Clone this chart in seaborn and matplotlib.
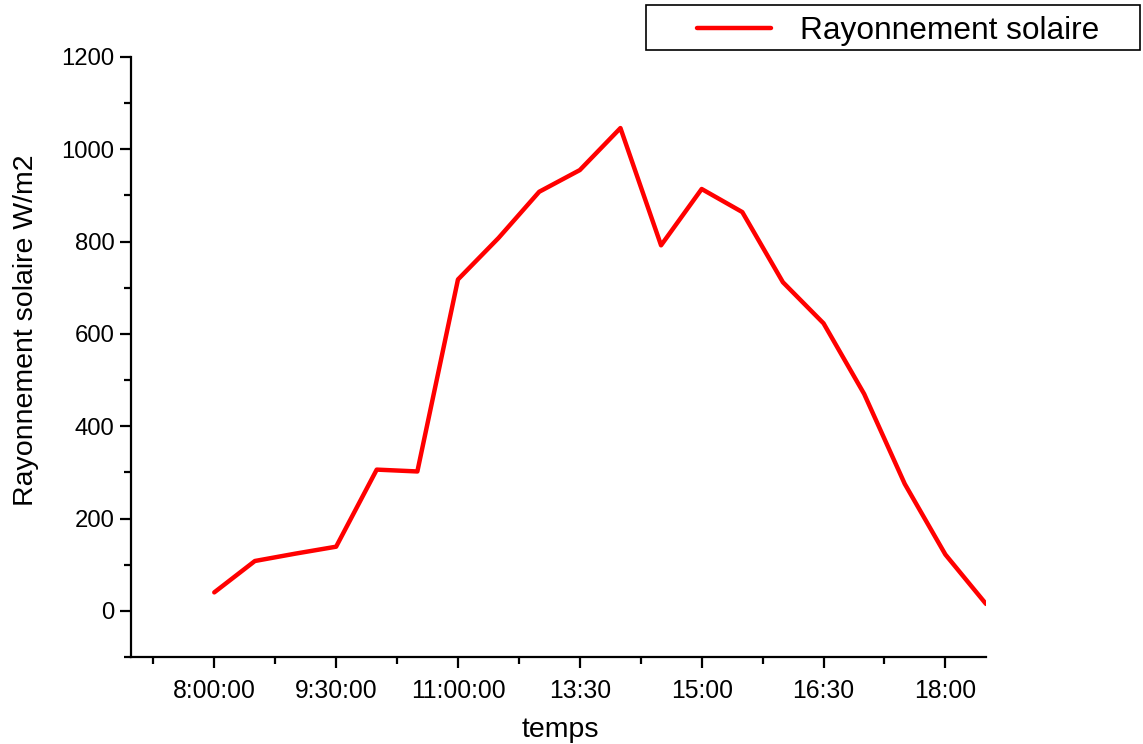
import matplotlib
matplotlib.use("Agg")
import matplotlib.pyplot as plt
from matplotlib.patches import Rectangle
from matplotlib.ticker import MultipleLocator
import seaborn as sns
import numpy as np

# one reading every step, tick labels every 3 steps
idx = list(range(20))
rayonnement = [40, 108, 124, 139, 306, 302, 718, 808, 908, 955,
               1046, 792, 914, 864, 712, 623, 470, 275, 122, 15]
tick_pos = [0, 3, 6, 9, 12, 15, 18]
tick_labels = ["8:00:00", "9:30:00", "11:00:00", "13:30", "15:00", "16:30", "18:00"]
serie = "Rayonnement solaire"

sns.set_style("ticks")
plt.rcParams["font.family"] = ["Liberation Sans", "DejaVu Sans"]
plt.rcParams["text.color"] = "black"
plt.rcParams["axes.labelcolor"] = "black"

fig = plt.figure(figsize=(11.43, 7.44), dpi=100)
ax = fig.add_axes([131/1143, 87/744, (986-131)/1143, (657-57)/744])

sns.lineplot(x=idx, y=rayonnement, color="#ff0000", lw=3.2, ax=ax, legend=False)

ax.set_xlim(-2.05, 19)
ax.set_ylim(-100, 1200)
ax.set_xticks(tick_pos)
ax.set_xticklabels(tick_labels)
ax.xaxis.set_minor_locator(MultipleLocator(3, offset=1.5))
ax.yaxis.set_major_locator(MultipleLocator(200))
ax.yaxis.set_minor_locator(MultipleLocator(100))

for s in ["top", "right"]:
    ax.spines[s].set_visible(False)
for s in ["left", "bottom"]:
    ax.spines[s].set_linewidth(1.6)
    ax.spines[s].set_color("black")

ax.tick_params(which="major", direction="out", length=8, width=1.6,
               labelsize=17.8, colors="black", labelcolor="black")
ax.tick_params(axis="x", which="major", pad=7.5)
ax.tick_params(axis="y", which="major", pad=4, labelsize=17.2)
ax.tick_params(which="minor", direction="out", length=5, width=1.6, colors="black")

ax.set_xlabel("temps", fontsize=20.5)
ax.set_ylabel("Rayonnement solaire W/m2", fontsize=20.5)
ax.xaxis.set_label_coords(0.502, -0.1)
ax.yaxis.set_label_coords(-0.108, 0.545)

# legend box sitting above the plot, top right
fig.patches.append(Rectangle((646/1143, 1 - 50/744), 494/1143, 45/744,
                             transform=fig.transFigure, fill=False,
                             edgecolor="black", lw=1.2))
fig.legend(ax.get_lines()[:1], [serie], loc="center left",
           bbox_to_anchor=(697/1143, 1 - 31/744), frameon=False,
           fontsize=22.8, handlelength=2.35, handletextpad=0.9,
           borderpad=0, borderaxespad=0)

fig.savefig("out.png", dpi=100)
